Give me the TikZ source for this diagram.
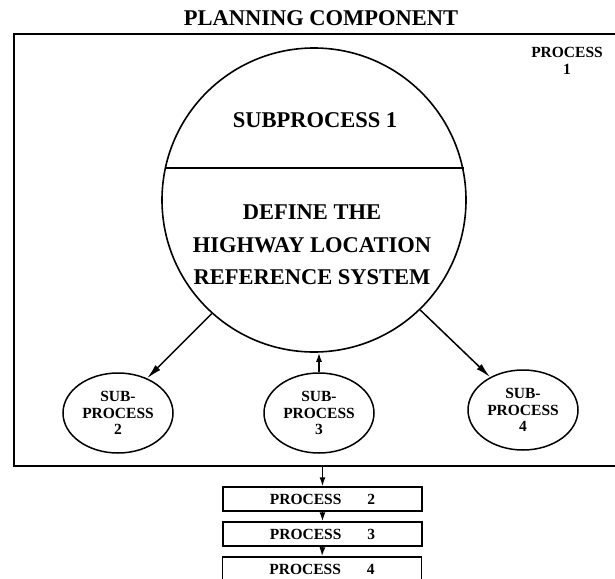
\documentclass[tikz,border=0pt]{standalone}
\usepackage{fontspec}
\setmainfont{Liberation Serif}
\usetikzlibrary{arrows.meta,shapes.geometric}
\begin{document}
\begin{tikzpicture}[x=1pt,y=-1pt,
  lw/.style={line width=1.6pt},
  bigtxt/.style={font=\fontsize{22.5}{32.5}\selectfont\bfseries, align=center},
  smalltxt/.style={font=\fontsize{15.5}{16.5}\selectfont\bfseries, align=center},
  subproc/.style={draw, line width=1.5pt, ellipse, minimum width=110pt, minimum height=80pt, inner sep=0pt, smalltxt},
  procbox/.style={draw, line width=1.4pt, rectangle, minimum width=199pt, minimum height=24pt, inner sep=0pt, smalltxt},
  arr/.style={line width=1.5pt, -{Latex[length=15pt,width=7pt]}},
  sarr/.style={line width=1.5pt, -{Latex[length=9pt,width=6pt]}},
]
\useasboundingbox (0,0) rectangle (615,578);
\clip (0,0) rectangle (615,578);
% title
\node[bigtxt] (title) at (321,18) {PLANNING COMPONENT};
% outer process box
\node[draw, lw, minimum width=603pt, minimum height=432pt, inner sep=0pt] (outer) at (315.5,250) {};
\node[smalltxt] (proc1) at (567,61) {PROCESS\\1};
% main circle
\node[draw, lw, circle, minimum size=304pt, inner sep=0pt] (c) at (314,200) {};
\draw[lw] (c.168.2) -- (c.168.2 -| c.11.8);
\node[bigtxt] (t1) at (315,120) {SUBPROCESS 1};
\node[bigtxt] (t2) at (312,245) {DEFINE THE\\HIGHWAY LOCATION\\REFERENCE SYSTEM};
% subprocesses
\node[subproc] (s2) at (118,413) {SUB-\\PROCESS\\2};
\node[subproc] (s3) at (319,413) {SUB-\\PROCESS\\3};
\node[subproc] (s4) at (523,410) {SUB-\\PROCESS\\4};
\draw[arr] (c.-132) -- (s2.50);
\draw[arr] (c.-46) -- (s4.135);
\draw[sarr] (s3.north) -- (s3.north |- c.south);
% process boxes
\node[procbox] (p2) at (322.5,499) {PROCESS\hspace{26pt}2};
\node[procbox] (p3) at (322.5,534) {PROCESS\hspace{26pt}3};
\node[procbox] (p4) at (322,569) {PROCESS\hspace{26pt}4};
\draw[sarr] (outer.south -| p2.north) -- (p2.north);
\draw[sarr] (p2.south) -- (p3.north);
\draw[sarr] (p3.south) -- (p4.north);
\end{tikzpicture}
\end{document}
